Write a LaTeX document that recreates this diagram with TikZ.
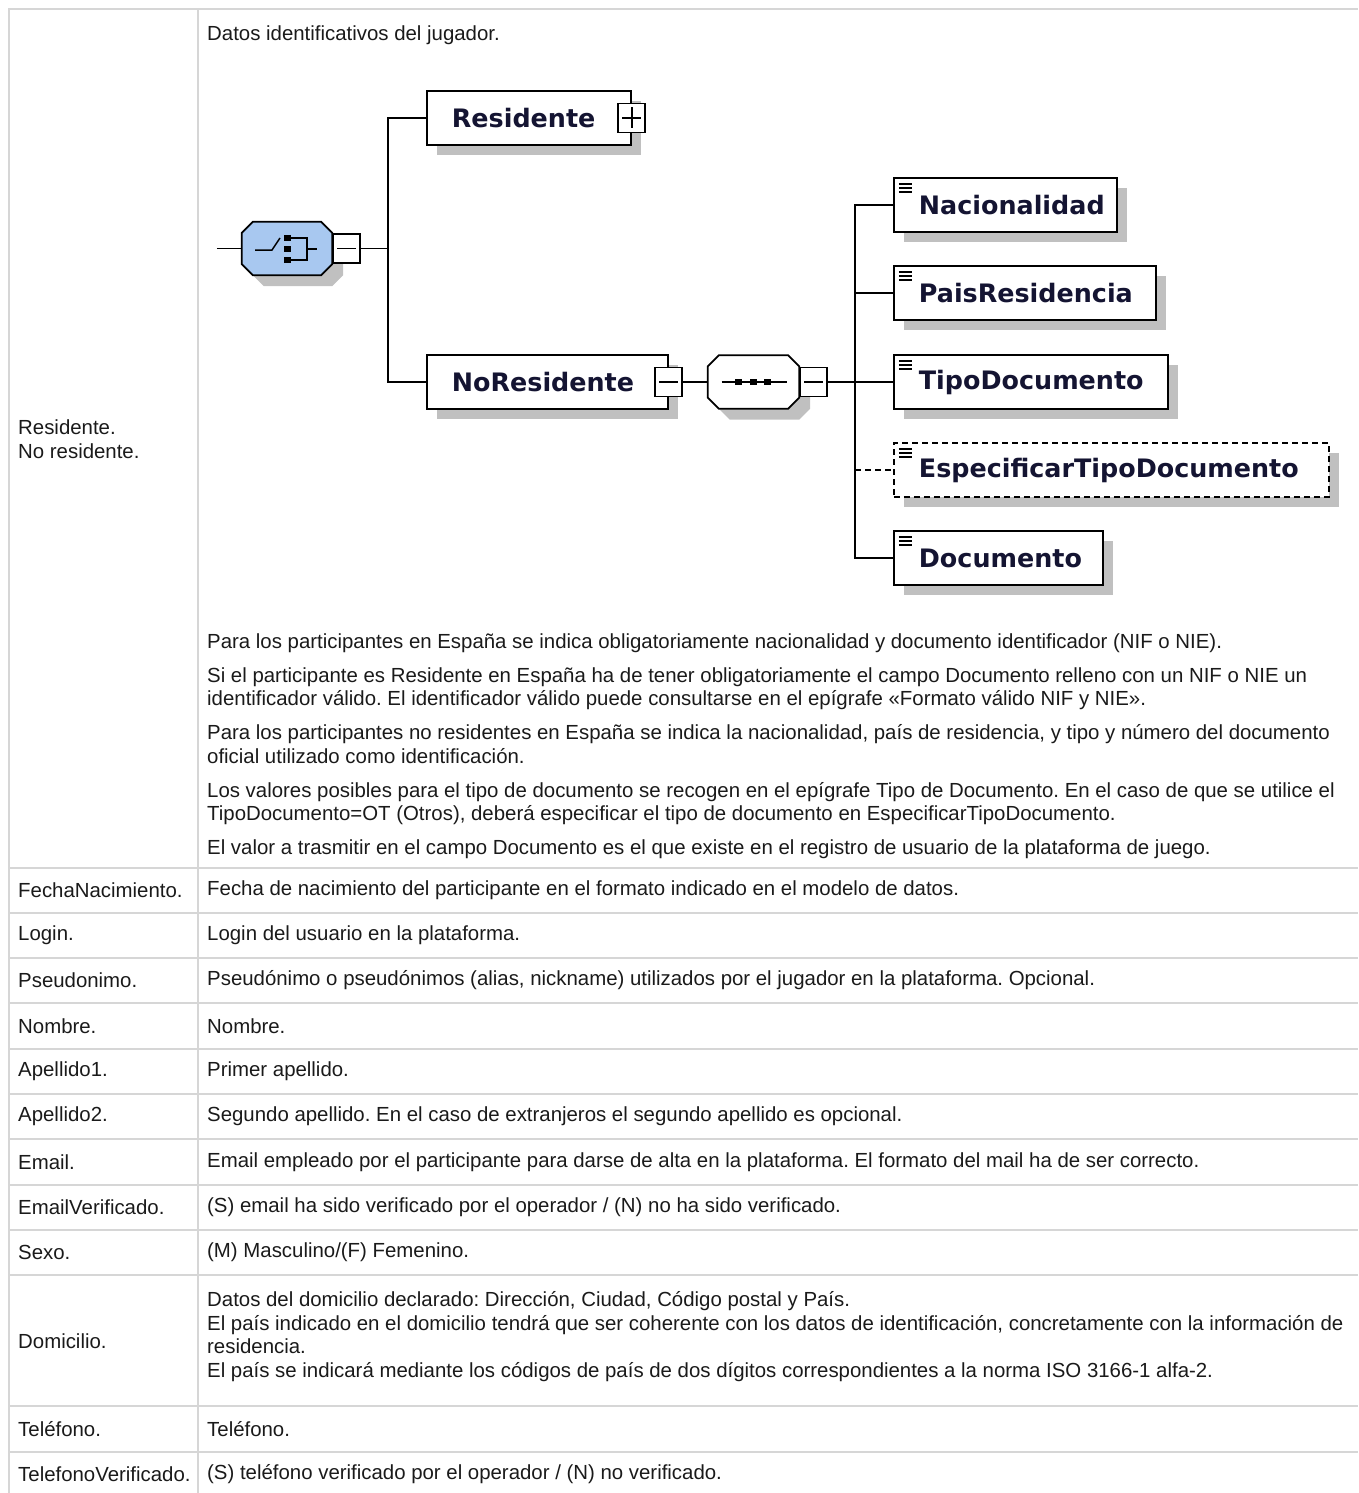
\documentclass[tikz,border=0pt]{standalone}
\usepackage{fontspec}
\setmainfont{Liberation Sans}
\newfontfamily\diagfont{DejaVu Sans}
\usetikzlibrary{shadows}
\hyphenpenalty=10000
\frenchspacing

\definecolor{gridgray}{RGB}{214,214,214}
\definecolor{inkgray}{RGB}{26,26,26}
\definecolor{navyink}{RGB}{20,20,50}
\definecolor{choiceblue}{RGB}{168,200,240}
\definecolor{shadowgray}{RGB}{192,192,192}

% octagon of a compositor, drawn round an empty node
\newcommand{\octagon}[2]{%
  \filldraw[line width=1.8, fill=#2, drop shadow={shadow xshift=11pt, shadow yshift=-11pt, fill=shadowgray, opacity=1}]
    ([xshift=11pt]#1.north west) -- ([xshift=-11pt]#1.north east) -- ([yshift=-11pt]#1.north east)
    -- ([yshift=11pt]#1.south east) -- ([xshift=-11pt]#1.south east) -- ([xshift=11pt]#1.south west)
    -- ([yshift=11pt]#1.south west) -- ([yshift=-11pt]#1.north west) -- cycle;}

\begin{document}
\begin{tikzpicture}[x=1pt, y=-1pt,
	grid/.style={draw=gridgray, line width=1.5},
	cell/.style={anchor=west, inner sep=0, align=left, text=inkgray, font=\fontsize{20.4}{23.5}\selectfont},
	elembox/.style={draw, line width=1.8, fill=white, anchor=west, minimum height=54, inner xsep=18, inner ysep=0,
		align=left, text=navyink, font=\diagfont\bfseries\fontsize{25.4}{25.4}\selectfont,
		execute at begin node={\hspace*{7pt}},
		drop shadow={shadow xshift=10pt, shadow yshift=-10pt, fill=shadowgray, opacity=1}},
	leafbox/.style={elembox, path picture={
		\foreach \k in {6,10,14}
			\draw[solid, line width=1.3] ([xshift=5pt, yshift=-\k pt]path picture bounding box.north west) -- ++(13,0);}},
	optbox/.style={leafbox, dash pattern=on 6pt off 4pt},
	minusbox/.style={draw, line width=1.8, fill=white, minimum width=27, minimum height=29, inner sep=0,
		path picture={\draw[line width=1.6] ([xshift=4pt]path picture bounding box.west) -- ([xshift=-4pt]path picture bounding box.east);}},
	plusbox/.style={minusbox, path picture={
		\draw[line width=1.6] ([xshift=4pt]path picture bounding box.west) -- ([xshift=-4pt]path picture bounding box.east);
		\draw[line width=1.6] ([yshift=-4pt]path picture bounding box.north) -- ([yshift=4pt]path picture bounding box.south);}},
	conn/.style={line width=1.8},
	]
	\useasboundingbox (0,0) rectangle (1358,1493);

	% table
	\draw[grid] (9,1493) -- (9,9) -- (1358,9);
	\draw[grid] (198,9) -- (198,1493);
	\foreach \y in {868,913,958,1003,1049,1094,1139,1185,1230,1275,1406,1452}
		\draw[grid] (9,\y) -- (1358,\y);

	\node[cell] (d0) at (207,35) {Datos identificativos del jugador.};
	\node[cell] (l0) at (18,439) {Residente.\\No residente.};
	\node[cell] (d0b) at (207,746) {Para los participantes en España se indica obligatoriamente nacionalidad y documento identificador (NIF o NIE).\\[10.5pt]
		Si el participante es Residente en España ha de tener obligatoriamente el campo Documento relleno con un NIF o NIE un\\
		identificador válido. El identificador válido puede consultarse en el epígrafe «Formato válido NIF y NIE».\\[10.5pt]
		Para los participantes no residentes en España se indica la nacionalidad, país de residencia, y tipo y número del documento\\
		oficial utilizado como identificación.\\[10.5pt]
		Los valores posibles para el tipo de documento se recogen en el epígrafe Tipo de Documento. En el caso de que se utilice el\\
		TipoDocumento=OT (Otros), deberá especificar el tipo de documento en EspecificarTipoDocumento.\\[10.5pt]
		El valor a trasmitir en el campo Documento es el que existe en el registro de usuario de la plataforma de juego.};

	\foreach [count=\i] \y/\lab/\desc in {
		890.5/FechaNacimiento./{Fecha de nacimiento del participante en el formato indicado en el modelo de datos.},
		935.5/Login./{Login del usuario en la plataforma.},
		980.5/Pseudonimo./{Pseudónimo o pseudónimos (alias, nickname) utilizados por el jugador en la plataforma. Opcional.},
		1026/Nombre./{Nombre.},
		1071.5/Apellido1./{Primer apellido.},
		1116.5/Apellido2./{Segundo apellido. En el caso de extranjeros el segundo apellido es opcional.},
		1162/Email./{Email empleado por el participante para darse de alta en la plataforma. El formato del mail ha de ser correcto.},
		1207.5/EmailVerificado./{(S) email ha sido verificado por el operador / (N) no ha sido verificado.},
		1252.5/Sexo./{(M) Masculino/(F) Femenino.},
		1429/Teléfono./{Teléfono.},
		1474.5/TelefonoVerificado./{(S) teléfono verificado por el operador / (N) no verificado.}}
	{
		\node[cell] (l\i) at (18,\y) {\lab};
		\node[cell] (d\i) at (207,\y) {\desc};
	}

	\node[cell] (ldom) at (18,1341) {Domicilio.};
	\node[cell] (ddom) at (207,1336.5) {Datos del domicilio declarado: Dirección, Ciudad, Código postal y País.\\
		El país indicado en el domicilio tendrá que ser coherente con los datos de identificación, concretamente con la información de\\
		residencia.\\
		El país se indicará mediante los códigos de país de dos dígitos correspondientes a la norma ISO 3166-1 alfa-2.};

	% diagram: choice
	\node[minimum width=90, minimum height=53, inner sep=0] (choice) at (287,248.5) {};
	\octagon{choice}{choiceblue}
	\begin{scope}[shift={(choice.center)}, line width=1.5]
		\draw (-32,1.5) -- (-15,1.5) -- (-7,-10.5);
		\foreach \q in {-10.5,0.5,11.5}
			\fill (0.5,\q) +(-3.4,-3.4) rectangle +(3.4,3.4);
		\draw (4,-10.5) -- (20,-10.5) -- (20,11.5) -- (4,11.5);
		\draw (20,0.5) -- (30,0.5);
	\end{scope}
	\node[minusbox, anchor=west] (cmin) at (choice.east) {};
	\coordinate (cin) at ([xshift=-25pt]choice.west);
	\coordinate (cbus) at ([xshift=27pt]cmin.east);

	\node[elembox, text width=168] (res) at (426,118) {Residente};
	\node[plusbox] (resp) at (res.east) {};
	\node[elembox, text width=205] (nores) at (426,382) {NoResidente};
	\node[minusbox] (nmin) at (nores.east) {};

	% diagram: sequence
	\node[minimum width=91, minimum height=53, inner sep=0] (seq) at (753.5,382) {};
	\octagon{seq}{white}
	\begin{scope}[shift={(seq.center)}, line width=1.5]
		\draw (-32,0) -- (33,0);
		\foreach \q in {-15,0,14}
			\fill (\q,0) +(-3.4,-3.4) rectangle +(3.4,3.4);
	\end{scope}
	\node[minusbox, anchor=west] (smin) at (seq.east) {};
	\coordinate (sbus) at ([xshift=27pt]smin.east);

	\node[leafbox, text width=187] (nac) at (893,205) {Nacionalidad};
	\node[leafbox, text width=226] (pais) at (893,293) {PaisResidencia};
	\node[leafbox, text width=238] (tipo) at (893,382) {TipoDocumento};
	\node[optbox, text width=399] (esp) at (893,470) {EspecificarTipoDocumento};
	\node[leafbox, text width=173] (doc) at (893,558) {Documento};

	% connectors
	\draw[conn] (cin) -- (choice.west);
	\draw[conn] (cmin.east) -- (cbus);
	\draw[conn] (cbus) |- (res.west);
	\draw[conn] (cbus) |- (nores.west);
	\draw[conn] (nmin.east) -- (seq.west);
	\draw[conn] (smin.east) -- (sbus);
	\draw[conn] (sbus) |- (nac.west);
	\draw[conn] (sbus) |- (pais.west);
	\draw[conn] (sbus) |- (tipo.west);
	\draw[conn] (sbus) |- (doc.west);
	\draw[conn, dash pattern=on 6pt off 4pt] (sbus |- esp.west) -- (esp.west);
\end{tikzpicture}
\end{document}
